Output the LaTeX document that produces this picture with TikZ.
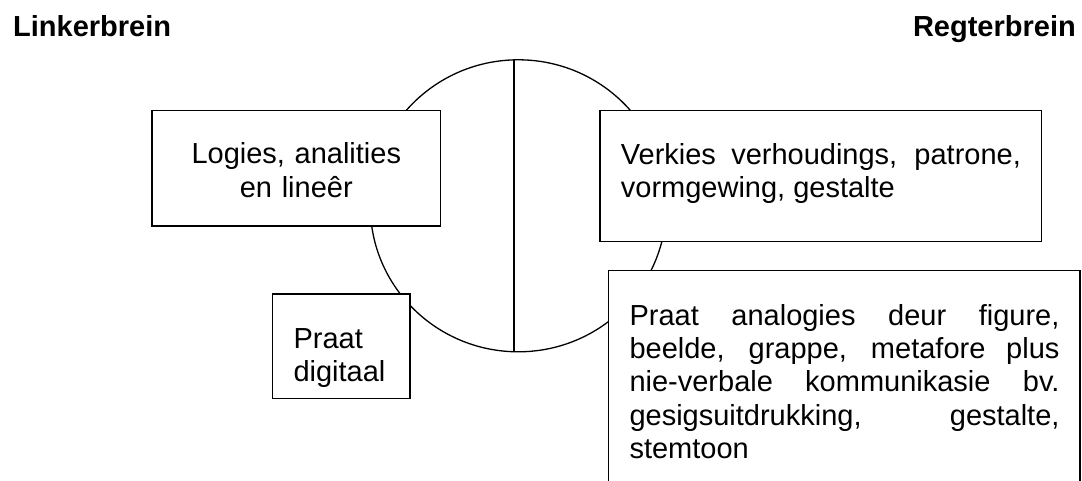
\documentclass[tikz,border=0pt]{standalone}
\usepackage{fontspec}
\setmainfont{Liberation Sans}

\begin{document}
\begin{tikzpicture}[x=1pt,y=-1pt,
  font=\fontsize{29}{33.4}\selectfont,
  brainbox/.style={draw,fill=white,line width=1.3pt,anchor=north west,inner sep=0pt,outer sep=0pt},
  braintext/.style={inner sep=0pt,anchor=base west}]
 \useasboundingbox (0,0) rectangle (1082,481);
 \clip (0,0) rectangle (1082,481);

 \node[braintext,font=\fontsize{29}{33.4}\selectfont\bfseries] (linker) at (13,36.5) {Linkerbrein};
 \node[braintext,anchor=base east,font=\fontsize{29}{33.4}\selectfont\bfseries] (regter) at (1076,36.5) {Regterbrein};

   \draw[line width=1.3pt] (518.3,205.8) ellipse [x radius=148pt, y radius=146pt];
   \draw[line width=1.3pt] (514,60) -- (514,351.7);

 \node[brainbox,minimum width=288.7pt,minimum height=115.3pt] (logies) at (152,110.7) {};
   \node[braintext,anchor=base,text width=250pt,align=center] (logiestext) at (296.3,164) {Logies, analities\\en lineêr};

 \node[brainbox,minimum width=137.3pt,minimum height=104.3pt] (digitaal) at (272.7,294) {};
   \node[braintext,text width=110pt,align=left] (digitaaltext) at (293.3,348.3) {Praat\\digitaal};

 \node[brainbox,minimum width=441.7pt,minimum height=131pt] (verkies) at (600,110.7) {};
   \node[braintext,text width=400pt,align=justify] (verkiestext) at (620.7,164.3)
     {Verkies verhoudings, patrone,\linebreak vormgewing, gestalte};

 \node[brainbox,minimum width=471.7pt,minimum height=260pt] (analogies) at (608.3,270.7) {};
   \node[braintext,text width=430pt,align=justify] (analogiestext) at (629.3,325)
     {Praat analogies deur figure,\linebreak beelde, grappe, metafore plus\linebreak
      nie-verbale kommunikasie bv.\linebreak gesigsuitdrukking, gestalte,\linebreak stemtoon};

\end{tikzpicture}
\end{document}
